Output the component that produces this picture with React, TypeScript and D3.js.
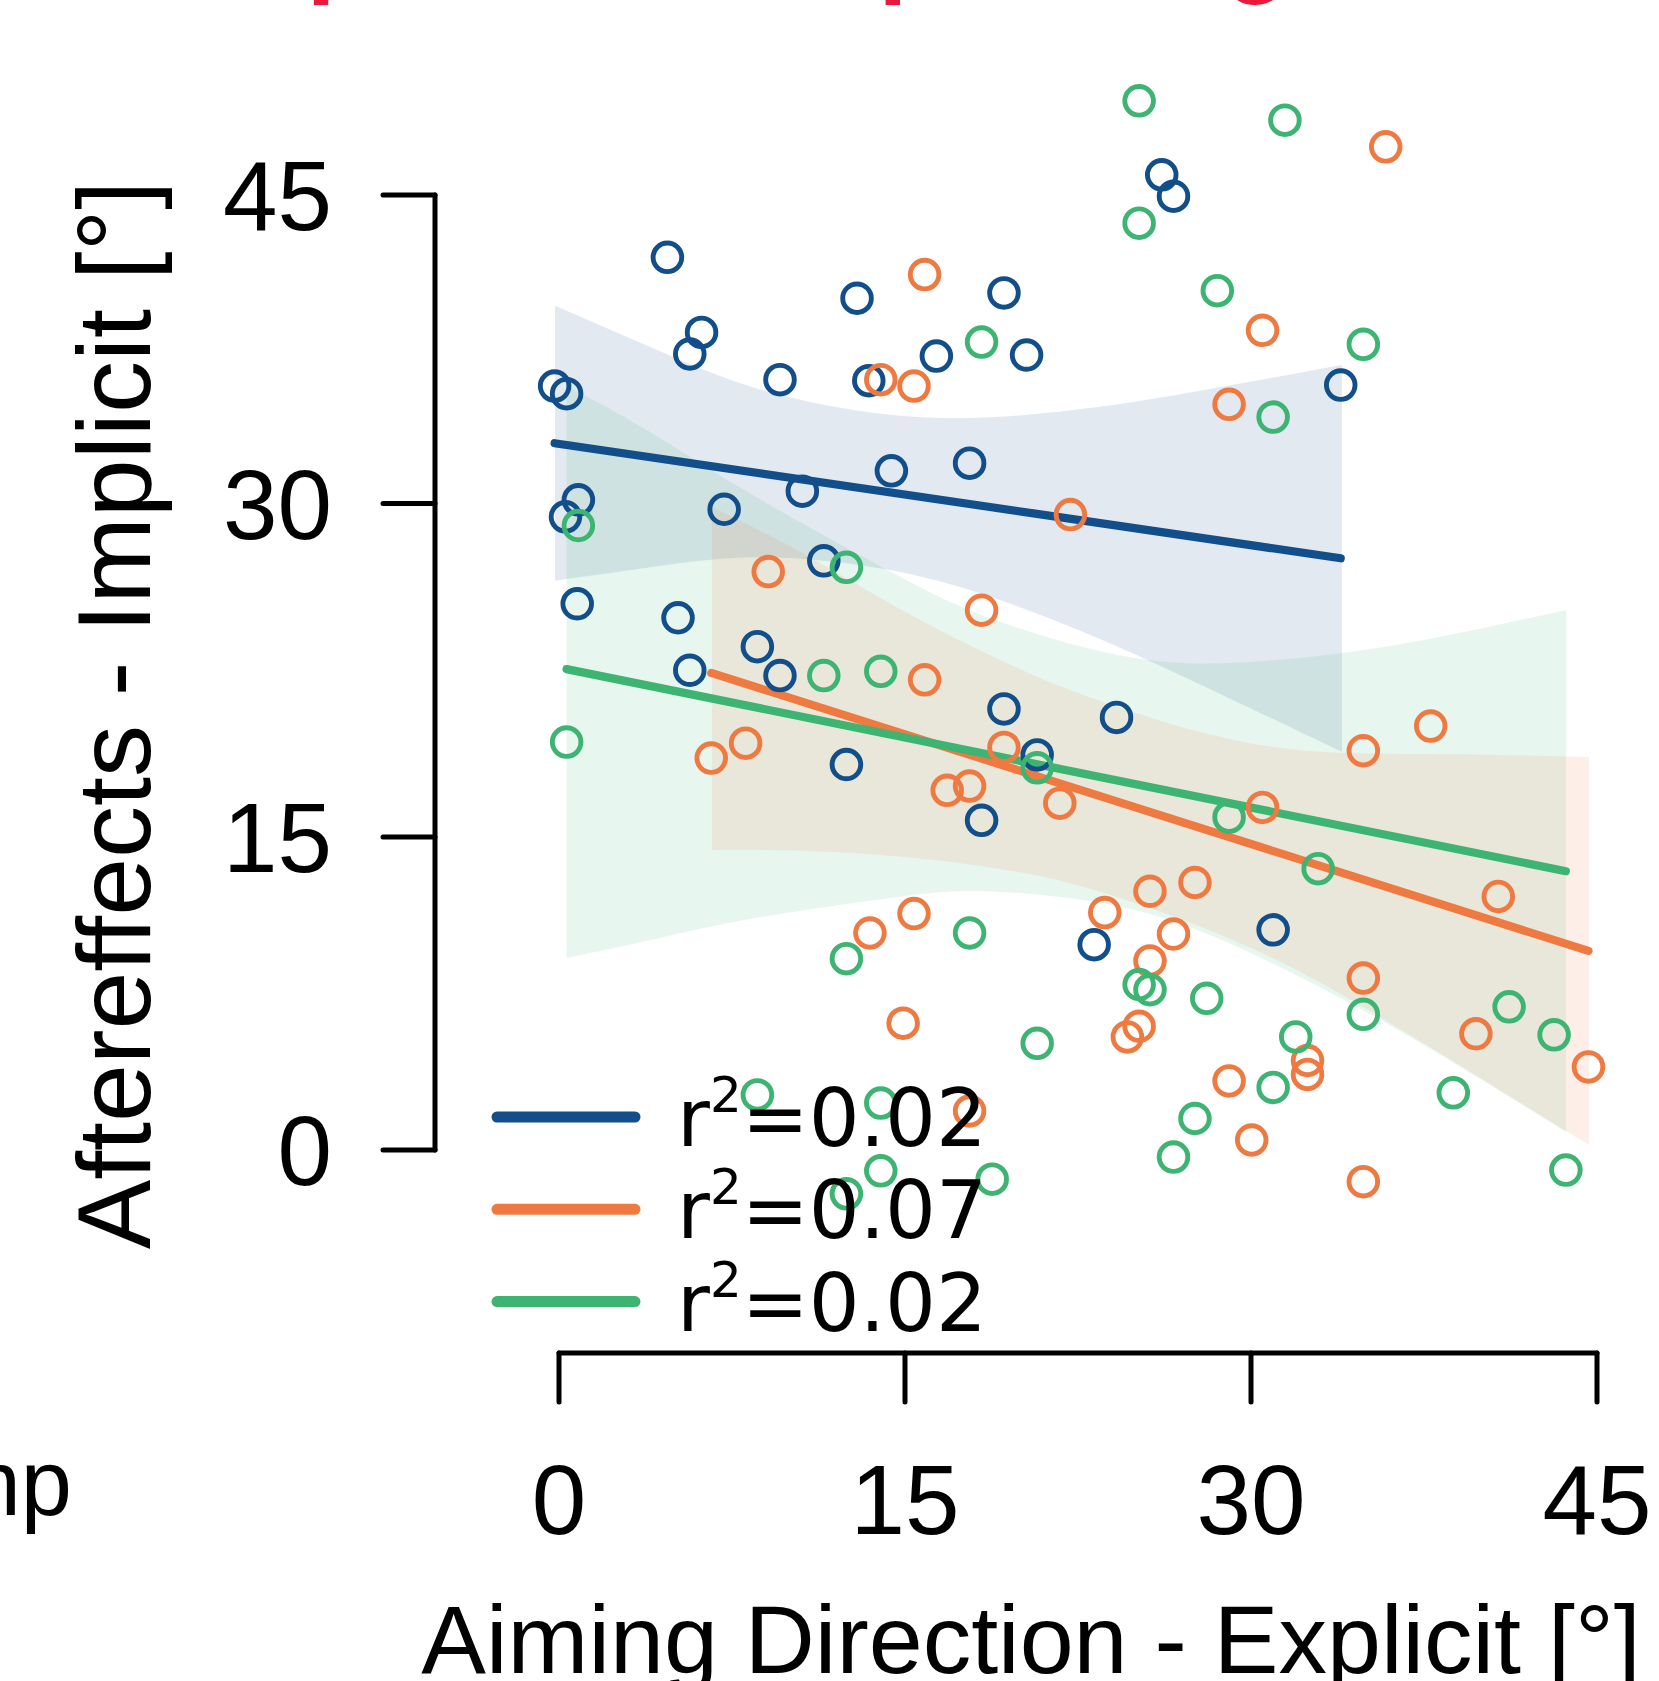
import * as d3 from "d3";

const width = 1659;
const height = 1681;

const xTicks = [0, 15, 30, 45];
const yTicks = [0, 15, 30, 45];

const colors = ["#124e89", "#ee7a42", "#3db471"];
const r2Labels = ["0.02", "0.07", "0.02"];

// aiming (explicit) and aftereffect (implicit) per participant, one pair of arrays per group
const blueExplicit = [-0.19, 0.33, 0.28, 0.84, 0.79, 4.7, 5.67, 6.18, 5.16, 5.67, 7.16, 8.6, 9.58, 9.58, 10.55, 11.48, 12.46, 12.92, 13.43, 14.41, 16.36, 17.8, 18.32, 19.29, 19.29, 20.27, 20.73, 23.2, 24.17, 26.13, 26.64, 30.96, 33.89];
const blueImplicit = [35.71, 35.34, 29.4, 30.18, 25.49, 41.97, 37.27, 38.32, 24.86, 22.5, 29.74, 23.56, 36.02, 22.26, 30.6, 27.42, 18.26, 39.98, 35.97, 31.59, 37.17, 31.96, 15.75, 40.24, 20.76, 37.22, 18.69, 9.84, 20.38, 45.98, 44.94, 10.55, 35.76];

const orangeExplicit = [6.6, 8.09, 9.07, 13.48, 13.95, 14.92, 15.39, 15.39, 15.85, 15.85, 16.83, 17.8, 17.8, 18.32, 19.29, 21.71, 22.17, 23.66, 24.64, 25.15, 25.62, 25.62, 26.64, 27.57, 29.05, 29.05, 30.03, 30.5, 30.5, 32.45, 32.45, 34.87, 34.87, 34.87, 35.84, 37.79, 39.75, 40.72, 44.63];
const orangeImplicit = [18.55, 19.22, 26.94, 10.4, 36.02, 6.08, 11.33, 35.71, 41.13, 22.07, 17.1, 17.29, 1.87, 25.2, 19.03, 16.52, 29.5, 11.38, 5.42, 5.93, 12.4, 9.06, 10.35, 12.82, 34.82, 3.31, 0.48, 38.42, 16.33, 4.29, 3.62, 18.88, 8.24, -1.52, 47.34, 19.99, 5.57, 12.15, 3.98];

const greenExplicit = [0.33, 0.84, 8.6, 11.48, 12.46, 12.46, 12.46, 13.95, 13.95, 13.95, 17.8, 18.32, 18.78, 20.73, 20.73, 25.15, 25.15, 25.15, 25.62, 26.64, 27.57, 28.08, 28.54, 29.05, 30.96, 30.96, 31.47, 31.94, 32.91, 34.87, 34.87, 38.77, 41.19, 43.14, 43.65];
const greenImplicit = [19.27, 29.01, 2.64, 22.26, 27.13, 9.17, -2.1, 22.45, 2.25, -1.0, 10.4, 37.85, -1.4, 18.11, 5.11, 49.58, 43.63, 7.93, 7.68, -0.34, 1.51, 7.27, 40.35, 15.89, 34.2, 3.0, 48.64, 5.42, 13.48, 37.74, 6.5, 2.74, 6.86, 5.52, -0.96];

// fitted lines
const fitIntercept = [32.9, 24.61, 22.62];
const fitSlope = [-0.1583, -0.3377, -0.2121];

// confidence bands
const blueBandX = [-0.17, 3.51, 6.98, 10.45, 14.79, 19.12, 23.45, 27.79, 33.94];
const blueBandHi = [39.62, 37.83, 36.2, 35.05, 34.27, 34.22, 34.7, 35.48, 36.73];
const blueBandLo = [26.53, 27.06, 27.51, 27.52, 26.92, 25.66, 23.9, 21.86, 18.83];

const orangeBandX = [6.63, 10.45, 14.78, 19.12, 23.45, 30.39, 37.33, 44.65];
const orangeBandHi = [29.84, 27.83, 25.25, 22.96, 21.12, 19.14, 18.73, 18.6];
const orangeBandLo = [14.38, 14.35, 14.06, 13.47, 12.38, 9.49, 5.22, 0.24];

const greenBandX = [0.33, 3.95, 8.28, 14.78, 19.12, 24.88, 30.39, 36.46, 43.66];
const greenBandHi = [35.71, 33.48, 30.49, 26.71, 24.68, 23.06, 22.9, 23.67, 25.21];
const greenBandLo = [9.2, 10.06, 11.07, 12.14, 12.37, 11.52, 9.23, 5.7, 0.86];

const series = [
  { xs: blueExplicit, ys: blueImplicit, bx: blueBandX, lo: blueBandLo, hi: blueBandHi },
  { xs: orangeExplicit, ys: orangeImplicit, bx: orangeBandX, lo: orangeBandLo, hi: orangeBandHi },
  { xs: greenExplicit, ys: greenImplicit, bx: greenBandX, lo: greenBandLo, hi: greenBandHi },
];

const axisFont = "'Liberation Sans', Arial, Helvetica, sans-serif";

function App() {
  const x = d3.scaleLinear().domain([0, 45]).range([559, 1597]);
  const y = d3.scaleLinear().domain([0, 15, 30, 45]).range([1150, 837, 503.5, 195]);

  const bandOrder = [0, 2, 1];

  return (
    <svg
      width={width}
      height={height}
      style={{ position: "absolute", left: 0, top: 0, background: "#fff" }}
    >
      <rect width={width} height={height} fill="#fff" />

      {/* title, mostly cut off at the top */}
      <text x={178} y={-17} fill="#e8193c" fontFamily={axisFont} fontWeight="bold" fontSize={105}>
        Explicit vs. Implicit Age
      </text>

      {/* bands */}
      {bandOrder.map((g) => {
        const s = series[g];
        const area = d3
          .area<number>()
          .x((d) => x(d))
          .y0((d, i) => y(s.lo[i]))
          .y1((d, i) => y(s.hi[i]))
          .curve(d3.curveNatural);
        return <path key={"band" + g} d={area(s.bx) || ""} fill={colors[g]} fillOpacity={0.12} />;
      })}

      {/* regression lines */}
      {series.map((s, g) => {
        const [x0, x1] = d3.extent(s.xs) as [number, number];
        const line = d3.line<number>().x((d) => x(d)).y((d) => y(fitIntercept[g] + fitSlope[g] * d));
        return (
          <path
            key={"fit" + g}
            d={line([x0, x1]) || ""}
            stroke={colors[g]}
            strokeWidth={8.2}
            strokeLinecap="round"
            fill="none"
          />
        );
      })}

      {/* points */}
      {series.map((s, g) =>
        s.xs.map((v, i) => (
          <circle
            key={"p" + g + "-" + i}
            cx={x(v)}
            cy={y(s.ys[i])}
            r={14.3}
            fill="none"
            stroke={colors[g]}
            strokeWidth={4.9}
          />
        ))
      )}

      {/* y axis */}
      <g fontFamily={axisFont} fontSize={98} fill="#000">
        <line x1={435} x2={435} y1={y(0)} y2={y(45)} stroke="#000" strokeWidth={5} strokeLinecap="round" />
        {yTicks.map((t) => (
          <g key={"yt" + t}>
            <line x1={383} x2={435} y1={y(t)} y2={y(t)} stroke="#000" strokeWidth={5} strokeLinecap="round" />
            <text x={332} y={y(t) + 35} textAnchor="end">
              {t}
            </text>
          </g>
        ))}
        <text
          transform={`translate(150, 715) rotate(-90)`}
          textAnchor="middle"
          fontSize={104}
        >
          Aftereffects - Implicit [°]
        </text>
      </g>

      {/* x axis */}
      <g fontFamily={axisFont} fontSize={98} fill="#000">
        <line x1={x(0)} x2={x(45)} y1={1353} y2={1353} stroke="#000" strokeWidth={5} strokeLinecap="round" />
        {xTicks.map((t) => (
          <g key={"xt" + t}>
            <line x1={x(t)} x2={x(t)} y1={1353} y2={1402} stroke="#000" strokeWidth={5} strokeLinecap="round" />
            <text x={x(t)} y={1534} textAnchor="middle">
              {t}
            </text>
          </g>
        ))}
        <text x={1031} y={1673} textAnchor="middle" fontSize={97}>
          Aiming Direction - Explicit [°]
        </text>
      </g>

      {/* neighbouring panel label, cut off at the left edge */}
      <text x={72} y={1515} textAnchor="end" fontFamily={axisFont} fontSize={92} fill="#000">
        Jump
      </text>

      {/* legend */}
      <g fontFamily="'DejaVu Sans', sans-serif" fill="#000">
        {r2Labels.map((lab, g) => {
          const ly = 1117 + g * 92.3;
          return (
            <g key={"leg" + g}>
              <line x1={497} x2={635} y1={ly} y2={ly} stroke={colors[g]} strokeWidth={11} strokeLinecap="round" />
              <text x={677} y={ly + 29} fontSize={80}>
                r
                <tspan fontSize={50} dy={-34}>
                  2
                </tspan>
                <tspan fontSize={80} dy={34}>
                  ={lab}
                </tspan>
              </text>
            </g>
          );
        })}
      </g>
    </svg>
  );
}

export default App;
